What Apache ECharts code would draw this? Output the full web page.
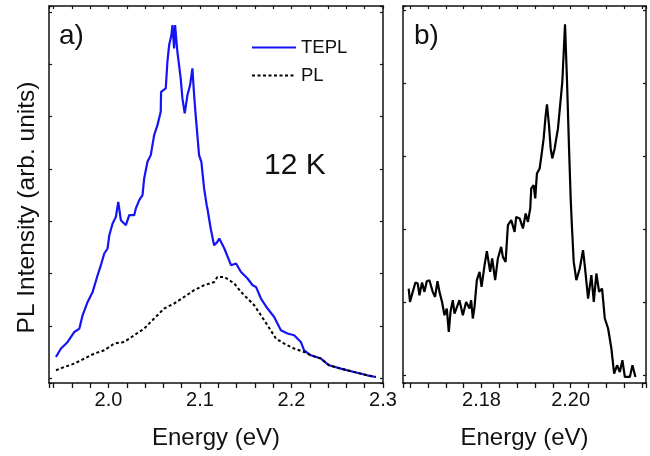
<!DOCTYPE html>
<html><head><meta charset="utf-8">
<script src="https://cdn.jsdelivr.net/npm/echarts@6/dist/echarts.min.js"></script>
<style>html,body{margin:0;padding:0;background:#fff}#c{width:650px;height:456px}</style>
</head><body><div id="c"></div>
<script>
// Panel a) — TEPL (blue)
const teplEnergy = [1.9426,1.9481,1.9554,1.9627,1.9682,1.9717,1.9772,1.9827,1.9881,1.9917,1.9954,1.9990,2.0009,2.0045,2.0081,2.0107,2.0135,2.0190,2.0227,2.0281,2.0299,2.0336,2.0372,2.0390,2.0426,2.0462,2.0499,2.0535,2.0571,2.0575,2.0626,2.0644,2.0663,2.0688,2.0699,2.0717,2.0728,2.0753,2.0789,2.0808,2.0833,2.0863,2.0892,2.0917,2.0936,2.0953,2.0990,2.1015,2.1045,2.1073,2.1081,2.1117,2.1154,2.1190,2.1211,2.1266,2.1339,2.1394,2.1448,2.1520,2.1575,2.1612,2.1666,2.1738,2.1811,2.1884,2.1956,2.2029,2.2102,2.2138,2.2211,2.2321,2.2411,2.2539,2.2684,2.2829,2.2920];
const teplIntensity = [0.409,0.570,0.696,0.887,0.952,1.206,1.461,1.652,1.971,2.163,2.386,2.482,2.736,2.960,3.086,3.373,3.023,2.927,3.119,3.119,3.247,3.405,3.501,3.820,4.138,4.266,4.648,4.839,5.094,5.476,5.541,6.050,6.369,6.560,6.751,6.306,6.751,6.241,5.732,5.350,5.063,5.413,5.604,5.923,5.413,5.031,4.266,4.138,3.629,3.310,3.247,2.864,2.545,2.608,2.673,2.482,2.163,2.195,2.034,1.908,1.780,1.748,1.526,1.335,1.174,0.920,0.857,0.824,0.696,0.537,0.442,0.379,0.250,0.187,0.122,0.059,0.027];
// Panel a) — PL (black dashed)
const plEnergy = [1.9426,1.9518,1.9627,1.9736,1.9845,1.9954,2.0063,2.0172,2.0281,2.0390,2.0499,2.0608,2.0717,2.0827,2.0936,2.1045,2.1157,2.1190,2.1211,2.1266,2.1375,2.1448,2.1520,2.1593,2.1666,2.1738,2.1830,2.1920,2.2029,2.2138,2.2211,2.2321,2.2411,2.2539,2.2684,2.2829,2.2920];
const plIntensity = [0.155,0.218,0.283,0.379,0.474,0.537,0.665,0.696,0.824,0.952,1.143,1.335,1.430,1.556,1.685,1.780,1.843,1.939,1.971,1.939,1.813,1.652,1.526,1.398,1.206,1.015,0.761,0.665,0.570,0.505,0.442,0.379,0.250,0.187,0.122,0.059,0.027];
// Panel b)
const bEnergy = [2.16368,2.16397,2.16458,2.16519,2.16570,2.16609,2.16667,2.16721,2.16773,2.16833,2.16907,2.16959,2.17013,2.17058,2.17116,2.17170,2.17222,2.17267,2.17305,2.17357,2.17395,2.17507,2.17582,2.17656,2.17732,2.17768,2.17806,2.17844,2.17896,2.17957,2.18002,2.18069,2.18121,2.18195,2.18240,2.18307,2.18368,2.18442,2.18480,2.18541,2.18593,2.18667,2.18743,2.18779,2.18856,2.18930,2.18991,2.19042,2.19094,2.19116,2.19170,2.19206,2.19244,2.19305,2.19341,2.19395,2.19440,2.19469,2.19514,2.19552,2.19588,2.19642,2.19678,2.19716,2.19755,2.19813,2.19874,2.19919,2.19964,2.20002,2.20031,2.20069,2.20128,2.20204,2.20278,2.20316,2.20391,2.20465,2.20519,2.20577,2.20638,2.20705,2.20766,2.20840,2.20914,2.20975,2.21042,2.21103,2.21161,2.21215,2.21328,2.21386,2.21453];
const bIntensity = [1.189,1.005,1.143,1.272,1.258,1.097,1.272,1.143,1.289,1.303,1.143,1.074,1.289,1.143,1.005,0.823,0.915,0.594,0.868,1.029,0.846,1.029,0.823,1.005,0.915,1.029,0.778,0.937,1.303,1.417,1.211,1.509,1.701,1.417,1.601,1.303,1.601,1.760,1.623,1.554,2.058,2.126,1.966,2.171,2.150,2.012,2.218,2.103,2.287,2.561,2.606,2.424,2.767,2.835,2.995,3.247,3.567,3.713,3.429,3.110,2.973,3.110,3.247,3.384,3.361,4.023,4.811,4.023,3.110,2.401,2.012,1.554,1.303,1.464,1.715,1.509,1.052,1.372,1.005,1.395,1.143,1.189,0.778,0.641,0.366,0.023,0.137,0.045,0.206,-0.023,-0.023,0.137,-0.023];
// Labelled ticks
const xLabelsA = [2.0, 2.1, 2.2, 2.3];
const xLabelsB = [2.18, 2.20];

const zip = (xs, ys) => xs.map((x, i) => [x, ys[i]]);
const FONT = "'Liberation Sans', Arial, sans-serif";
const INK = '#111';
const axisLine = {show: true, onZero: false, lineStyle: {color: INK, width: 1.5}};
function fmt(list, digits) {
  return v => list.some(t => Math.abs(t - v) < 1e-6) ? v.toFixed(digits) : '';
}
function xBottom(grid, min, max, step, list, digits) {
  return {gridIndex: grid, type: 'value', position: 'bottom', min, max, minInterval: step, maxInterval: step,
    axisLine, axisTick: {show: true, inside: false, length: 5, lineStyle: {color: INK, width: 1.3}},
    axisLabel: {formatter: fmt(list, digits), fontSize: 20, color: INK, margin: 7, fontFamily: FONT, showMinLabel: true, showMaxLabel: true, hideOverlap: false},
    splitLine: {show: false},
    name: 'Energy (eV)', nameLocation: 'middle', nameGap: 43,
    nameTextStyle: {fontSize: 24, color: INK, fontFamily: FONT}};
}
function xTop(grid, min, max, step) {
  return {gridIndex: grid, type: 'value', position: 'top', min, max, minInterval: step, maxInterval: step,
    axisLine, axisTick: {show: true, inside: true, length: 3, lineStyle: {color: INK, width: 1.2}},
    axisLabel: {show: false}, splitLine: {show: false}};
}
function yAx(grid, min, max, pos, name) {
  const o = {gridIndex: grid, type: 'value', position: pos, min, max, minInterval: 1, maxInterval: 1,
    axisLine, axisTick: {show: true, inside: true, length: 3, lineStyle: {color: INK, width: 1.2}},
    axisLabel: {show: false}, splitLine: {show: false}};
  if (name) {
    o.name = name; o.nameLocation = 'middle'; o.nameGap = 9;
    o.nameTextStyle = {fontSize: 24.5, color: INK, fontFamily: FONT, padding: [0, 26, 0, 0]};
  }
  return o;
}

const chart = echarts.init(document.getElementById('c'), null, {renderer: 'canvas'});
chart.setOption({
  backgroundColor: '#fff',
  animation: false,
  textStyle: {fontFamily: FONT},
  grid: [
    {left: 49, top: 6, width: 334, height: 377, containLabel: false},
    {left: 403, top: 6, width: 243, height: 377, containLabel: false}
  ],
  xAxis: [
    xBottom(0, 1.935, 2.30, 0.02, xLabelsA, 1),
    xTop(0, 1.935, 2.30, 0.02),
    xBottom(1, 2.1624, 2.2169, 0.004, xLabelsB, 2),
    xTop(1, 2.1624, 2.2169, 0.004)
  ],
  yAxis: [
    yAx(0, -0.088, 7.115, 'left', 'PL Intensity (arb. units)'),
    yAx(0, -0.088, 7.115, 'right'),
    yAx(1, -0.106, 5.062, 'left'),
    yAx(1, -0.106, 5.062, 'right')
  ],
  legend: {
    data: ['TEPL', 'PL'], orient: 'vertical', left: 251, top: 38, padding: 0,
    itemWidth: 44, itemHeight: 14, itemGap: 9,
    itemStyle: {opacity: 0},
    textStyle: {fontSize: 18.5, color: INK, fontFamily: FONT}
  },
  graphic: [
    {type: 'text', left: 59, top: 22, style: {text: 'a)', font: '28px ' + FONT, fill: INK}},
    {type: 'text', left: 414, top: 22, style: {text: 'b)', font: '28px ' + FONT, fill: INK}},
    {type: 'text', left: 264, top: 151, style: {text: '12 K', font: '30px ' + FONT, fill: INK}}
  ],
  series: [
    {name: 'TEPL', type: 'line', xAxisIndex: 0, yAxisIndex: 0, data: zip(teplEnergy, teplIntensity),
      showSymbol: false, symbol: 'none', lineStyle: {color: '#1414f5', width: 2.2}, itemStyle: {color: '#1414f5'}, z: 3},
    {name: 'PL', type: 'line', xAxisIndex: 0, yAxisIndex: 0, data: zip(plEnergy, plIntensity),
      showSymbol: false, symbol: 'none', lineStyle: {color: '#000', width: 2, type: [3, 2.5]}, itemStyle: {color: '#000'}, z: 4},
    {name: 'b', type: 'line', xAxisIndex: 2, yAxisIndex: 2, data: zip(bEnergy, bIntensity),
      showSymbol: false, symbol: 'none', lineStyle: {color: '#000', width: 2.2}, itemStyle: {color: '#000'}}
  ]
});
</script></body></html>
